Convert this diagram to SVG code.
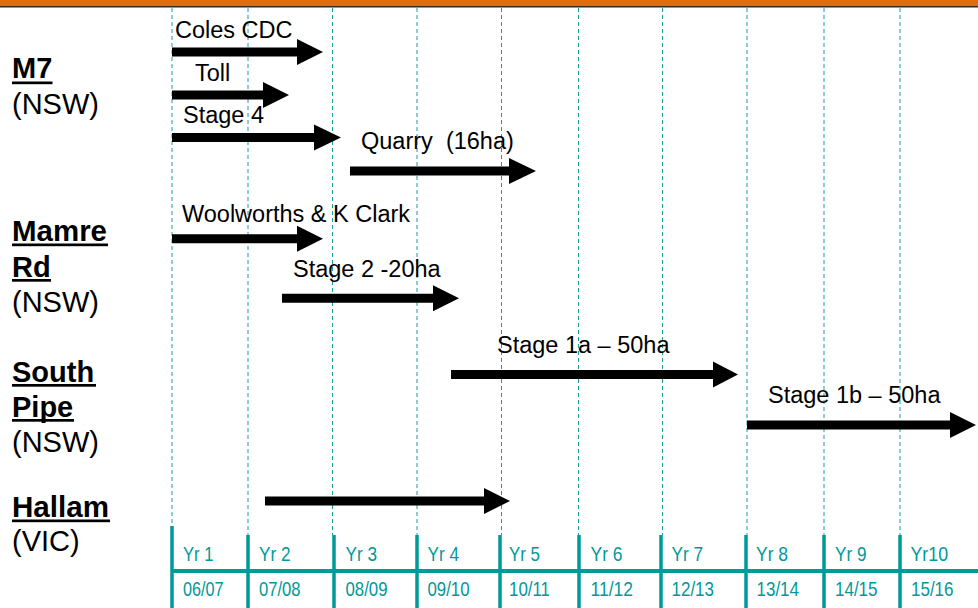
<svg xmlns="http://www.w3.org/2000/svg" width="978" height="608" viewBox="0 0 978 608">
<style>
.grid line{stroke:#1a9e9e;stroke-width:1;stroke-dasharray:4 3}
.axis line{stroke:#009999;stroke-width:3.5}
.yr{font-family:"Liberation Sans Narrow","Liberation Sans",Arial,sans-serif;font-size:21px;fill:#009999}
.lbl{font-family:"Liberation Sans",Arial,sans-serif;font-size:23.5px;fill:#000;white-space:pre}
.site{font-family:"Liberation Sans",Arial,sans-serif;font-size:29px;fill:#000}
.site .b{font-weight:bold}
.ul{fill:#000}
.arrow{fill:#000}
</style>
<rect width="978" height="608" fill="#fff"/>
<g id="topbar">
<rect x="0" y="0" width="978" height="6" fill="#E36C0A"/>
<rect x="0" y="6" width="978" height="1.5" fill="#3a2a1a"/>
</g>
<g id="grid" class="grid">
<line x1="172" y1="8" x2="172" y2="535"/>
<line x1="248" y1="8" x2="248" y2="535"/>
<line x1="332.5" y1="8" x2="332.5" y2="535"/>
<line x1="417" y1="8" x2="417" y2="535"/>
<line x1="501.5" y1="8" x2="501.5" y2="535"/>
<line x1="578.5" y1="8" x2="578.5" y2="535"/>
<line x1="662.5" y1="8" x2="662.5" y2="535"/>
<line x1="747" y1="8" x2="747" y2="535"/>
<line x1="824" y1="8" x2="824" y2="535"/>
<line x1="900" y1="8" x2="900" y2="535"/>
</g>
<g id="axis" class="axis">
<line x1="171" y1="571" x2="978" y2="571" style="stroke-width:4"/>
<line x1="172" y1="526" x2="172" y2="608"/>
<line x1="248" y1="535" x2="248" y2="608"/>
<line x1="334" y1="535" x2="334" y2="608"/>
<line x1="417" y1="535" x2="417" y2="608"/>
<line x1="500" y1="535" x2="500" y2="608"/>
<line x1="579" y1="535" x2="579" y2="608"/>
<line x1="661" y1="535" x2="661" y2="608"/>
<line x1="746" y1="535" x2="746" y2="608"/>
<line x1="824" y1="535" x2="824" y2="608"/>
<line x1="900" y1="535" x2="900" y2="608"/>
</g>
<g id="years" class="yr">
<text x="183" y="561" textLength="30.5" lengthAdjust="spacingAndGlyphs">Yr 1</text>
<text x="259" y="561" textLength="31.5" lengthAdjust="spacingAndGlyphs">Yr 2</text>
<text x="345.5" y="561" textLength="31.5" lengthAdjust="spacingAndGlyphs">Yr 3</text>
<text x="427.5" y="561" textLength="31.5" lengthAdjust="spacingAndGlyphs">Yr 4</text>
<text x="509" y="561" textLength="31" lengthAdjust="spacingAndGlyphs">Yr 5</text>
<text x="590.5" y="561" textLength="32" lengthAdjust="spacingAndGlyphs">Yr 6</text>
<text x="671.5" y="561" textLength="31.5" lengthAdjust="spacingAndGlyphs">Yr 7</text>
<text x="756" y="561" textLength="32" lengthAdjust="spacingAndGlyphs">Yr 8</text>
<text x="835" y="561" textLength="31.5" lengthAdjust="spacingAndGlyphs">Yr 9</text>
<text x="910.5" y="561" textLength="37.5" lengthAdjust="spacingAndGlyphs">Yr10</text>
<text x="183" y="596" textLength="40.5" lengthAdjust="spacingAndGlyphs">06/07</text>
<text x="259" y="596" textLength="41.5" lengthAdjust="spacingAndGlyphs">07/08</text>
<text x="345.5" y="596" textLength="42" lengthAdjust="spacingAndGlyphs">08/09</text>
<text x="427.5" y="596" textLength="42" lengthAdjust="spacingAndGlyphs">09/10</text>
<text x="509" y="596" textLength="41" lengthAdjust="spacingAndGlyphs">10/11</text>
<text x="590.5" y="596" textLength="42.5" lengthAdjust="spacingAndGlyphs">11/12</text>
<text x="671.5" y="596" textLength="42.5" lengthAdjust="spacingAndGlyphs">12/13</text>
<text x="756.5" y="596" textLength="42.5" lengthAdjust="spacingAndGlyphs">13/14</text>
<text x="835" y="596" textLength="42.5" lengthAdjust="spacingAndGlyphs">14/15</text>
<text x="911" y="596" textLength="42.5" lengthAdjust="spacingAndGlyphs">15/16</text>
</g>
<g id="site-m7" class="site">
<text x="12" y="78" class="b">M7</text>
<rect class="ul" x="12" y="81.5" width="40.5" height="2.7"/>
<text x="12" y="113.5">(NSW)</text>
</g>
<g id="site-mamre" class="site">
<text x="12" y="241" class="b" textLength="95" lengthAdjust="spacingAndGlyphs">Mamre</text>
<rect class="ul" x="12" y="243.5" width="96" height="2.7"/>
<text x="12" y="276.5" class="b">Rd</text>
<rect class="ul" x="12" y="279" width="39" height="2.7"/>
<text x="12" y="312">(NSW)</text>
</g>
<g id="site-south" class="site">
<text x="12" y="381.5" class="b">South</text>
<rect class="ul" x="12" y="384" width="84" height="2.7"/>
<text x="12" y="416.5" class="b">Pipe</text>
<rect class="ul" x="12" y="419" width="62" height="2.7"/>
<text x="12" y="451.5">(NSW)</text>
</g>
<g id="site-hallam" class="site">
<text x="12" y="516.5" class="b" textLength="97" lengthAdjust="spacingAndGlyphs">Hallam</text>
<rect class="ul" x="12" y="519.5" width="98" height="2.7"/>
<text x="12" y="551">(VIC)</text>
</g>
<g id="connectors">
<g id="bar-coles">
<polygon class="arrow" points="172,47.5 297,47.5 297,39 323,52 297,65 297,56.5 172,56.5"/>
<text class="lbl" x="175" y="38.3">Coles CDC</text>
</g>
<g id="bar-toll">
<polygon class="arrow" points="172,90.5 263,90.5 263,82 289,95 263,108 263,99.5 172,99.5"/>
<text class="lbl" x="195" y="80.7">Toll</text>
</g>
<g id="bar-stage4">
<polygon class="arrow" points="172,133 314,133 314,124.5 341,137.5 314,150.5 314,142 172,142"/>
<text class="lbl" x="183" y="123.3">Stage 4</text>
</g>
<g id="bar-quarry">
<polygon class="arrow" points="350,166.5 509,166.5 509,158 536,171 509,184 509,175.5 350,175.5"/>
<text class="lbl" x="361" y="149.3">Quarry  (16ha)</text>
</g>
<g id="bar-woolworths">
<polygon class="arrow" points="172,234.2 297,234.2 297,225.7 323,238.7 297,251.7 297,243.2 172,243.2"/>
<text class="lbl" x="182" y="221.7">Woolworths &amp; K Clark</text>
</g>
<g id="bar-stage2">
<polygon class="arrow" points="282,293.8 433,293.8 433,285.3 459,298.3 433,311.3 433,302.8 282,302.8"/>
<text class="lbl" x="293" y="276.7">Stage 2 -20ha</text>
</g>
<g id="bar-stage1a">
<polygon class="arrow" points="451,370 713,370 713,361.5 738,374.6 713,387.6 713,379 451,379"/>
<text class="lbl" x="497" y="353.3">Stage 1a – 50ha</text>
</g>
<g id="bar-stage1b">
<polygon class="arrow" points="747,420.5 950,420.5 950,412 976,425 950,438 950,429.5 747,429.5"/>
<text class="lbl" x="768" y="403.3">Stage 1b – 50ha</text>
</g>
<g id="bar-hallam">
<polygon class="arrow" points="265,496.5 484,496.5 484,488 510,501 484,514 484,505.5 265,505.5"/>
</g>
</g>
</svg>
